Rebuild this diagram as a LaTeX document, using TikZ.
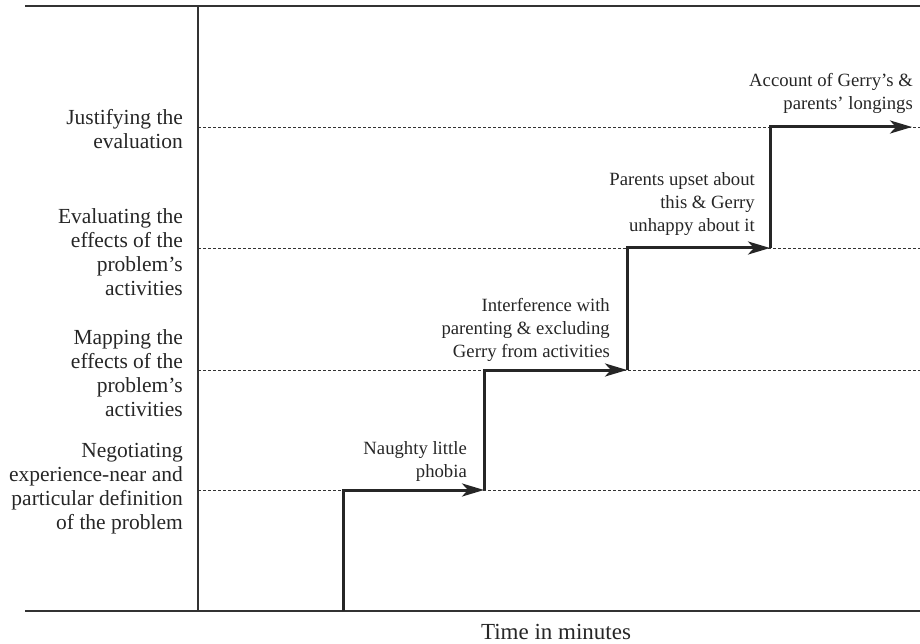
\documentclass[tikz,border=0pt]{standalone}
\usepackage{fontspec}
\setmainfont{Liberation Serif}
\usetikzlibrary{arrows.meta}
\begin{document}
\begin{tikzpicture}[x=1pt,y=-1pt,
  lbl/.style={align=right, inner sep=0pt, text=black!85},
  leftlbl/.style={lbl, font=\fontsize{21.5}{24}\selectfont, anchor=east},
  steplbl/.style={lbl, font=\fontsize{18.7}{23}\selectfont, anchor=north east},
  axis/.style={line width=1.4pt, draw=black!80},
  level/.style={dash pattern=on 3pt off 2pt, line width=0.8pt, draw=black!80},
  stepline/.style={line width=3pt, draw=black!85, line join=miter},
  arr/.style={-{Stealth[length=22pt,width=13pt,inset=6pt]}}]
\useasboundingbox (0,0) rectangle (920,644);
% frame coordinates
\coordinate (tl) at (25,6);
\coordinate (tr) at (920,6);
\coordinate (bl) at (25,611);
\coordinate (br) at (920,611);
\coordinate (ax0) at (198,6);
\coordinate (ax1) at (198,611);
% levels
\coordinate (l1s) at (198,127); \coordinate (l1e) at (920,127);
\coordinate (l2s) at (198,248); \coordinate (l2e) at (920,248);
\coordinate (l3s) at (198,370); \coordinate (l3e) at (920,370);
\coordinate (l4s) at (198,490); \coordinate (l4e) at (920,490);
\draw[level] (l1s) -- (l1e);
\draw[level] (l2s) -- (l2e);
\draw[level] (l3s) -- (l3e);
\draw[level] (l4s) -- (l4e);
\draw[axis] (tl) -- (tr);
\draw[axis] (bl) -- (br);
\draw[axis] (ax0) -- (ax1);
% step points
\coordinate (s0) at (343,611);
\coordinate (c1) at (343,490);
\coordinate (p1) at (484,490);
\coordinate (c2) at (484,370);
\coordinate (p2) at (627,370);
\coordinate (c3) at (627,248);
\coordinate (p3) at (770,248);
\coordinate (c4) at (770,127);
\coordinate (p4) at (912,127);
\draw[stepline,arr] (s0) -- (c1) -- (p1);
\draw[stepline,arr] (p1) -- (c2) -- (p2);
\draw[stepline,arr] (p2) -- (c3) -- (p3);
\draw[stepline,arr] (p3) -- (c4) -- (p4);
% left labels
\node[leftlbl] (j) at (183,129) {Justifying the\\evaluation};
\node[leftlbl] (e) at (183,252) {Evaluating the\\effects of the\\problem's\\activities};
\node[leftlbl] (m) at (183,373) {Mapping the\\effects of the\\problem's\\activities};
\node[leftlbl] (n) at (183,488.5) {Negotiating\\experience-near and\\particular definition\\of the problem};
% step labels
\node[steplbl] (a1) at (467,441) {Naughty little\\phobia};
\node[steplbl] (a2) at (610,298) {Interference with\\parenting \& excluding\\Gerry from activities};
\node[steplbl] (a3) at (755,172) {Parents upset about\\this \& Gerry\\unhappy about it};
\node[steplbl] (a4) at (913,73) {Account of Gerry's \&\\parents' longings};
% axis label
\node[lbl, font=\fontsize{23}{26}\selectfont, align=center] (t) at (556,632) {Time in minutes};
\end{tikzpicture}
\end{document}
